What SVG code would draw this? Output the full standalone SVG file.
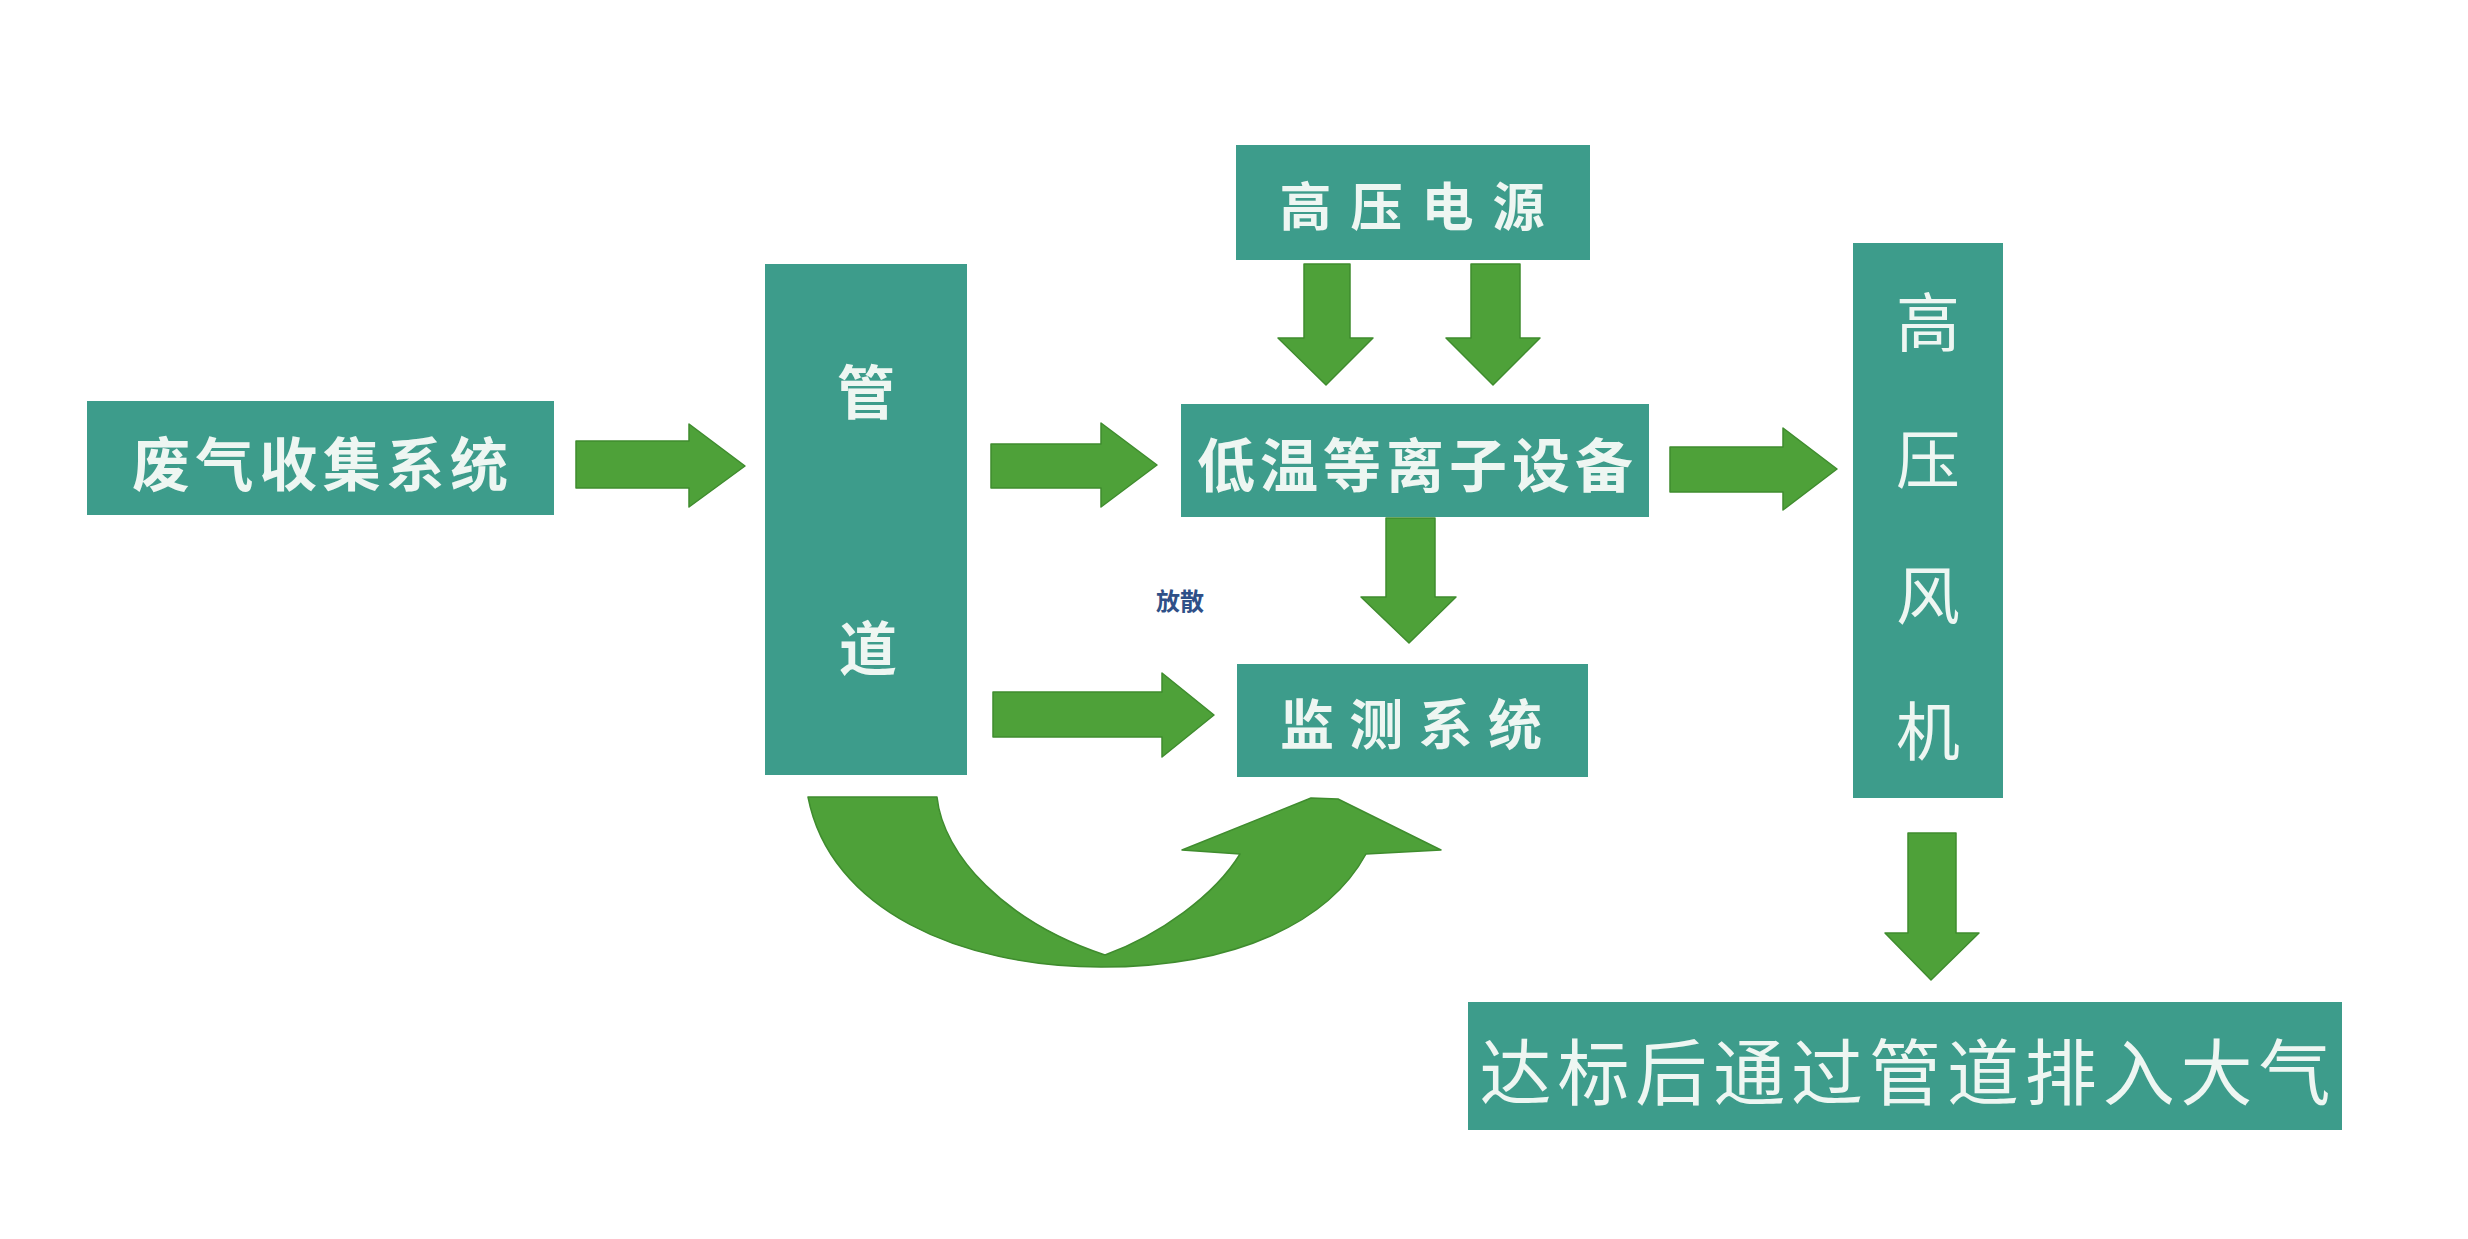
<svg xmlns="http://www.w3.org/2000/svg" width="2468" height="1239" viewBox="0 0 2468 1239">
<style>
.box{fill:#3d9c8b;}
.t{font-family:"Noto Sans CJK SC","Noto Sans CJK JP",sans-serif;fill:#eef6f2;dominant-baseline:central;text-anchor:middle;}
.b{font-weight:700;}
.arr{fill:#4ea139;stroke:#3f8c2e;stroke-width:1.5;stroke-linejoin:round;}
.note{font-family:"Noto Sans CJK SC",sans-serif;fill:#2f5088;font-weight:700;font-size:24px;dominant-baseline:central;text-anchor:middle;}
</style>
<rect width="2468" height="1239" fill="#ffffff"/>
<g id="connectors">
  <polygon class="arr" points="576,441 689,441 689,424 745,466 689,507 689,488 576,488"/>
  <polygon class="arr" points="991,444 1101,444 1101,423 1157,465 1101,507 1101,488 991,488"/>
  <polygon class="arr" points="993,692 1162,692 1162,673 1214,715 1162,757 1162,737 993,737"/>
  <polygon class="arr" points="1670,447 1783,447 1783,428 1837,469 1783,510 1783,492 1670,492"/>
  <polygon class="arr" points="1304,264 1350,264 1350,338 1373,338 1326,385 1278,338 1304,338"/>
  <polygon class="arr" points="1471,264 1520,264 1520,338 1540,338 1493,385 1446,338 1471,338"/>
  <polygon class="arr" points="1386,518 1435,518 1435,597 1456,597 1409,643 1361,597 1386,597"/>
  <polygon class="arr" points="1908,833 1956,833 1956,933 1979,933 1931,980 1885,933 1908,933"/>
  <path class="arr" d="M808,797 L937,797 C943,855 1005,922 1105,955 C1160,935 1215,895 1240,854 L1182,850 L1311,798 L1338,799 L1441,850 L1366,854 C1330,920 1240,967 1101,967 C960,967 830,910 808,797 Z"/>
</g>
<g id="n1">
  <rect class="box" x="87" y="401" width="467" height="114"/>
  <text class="t b" x="320" y="461" font-size="58" textLength="376">废气收集系统</text>
</g>
<g id="n2">
  <rect class="box" x="765" y="264" width="202" height="511"/>
  <text class="t b" x="866" y="389" font-size="58">管</text>
  <text class="t b" x="868" y="645" font-size="58">道</text>
</g>
<g id="n3">
  <rect class="box" x="1236" y="145" width="354" height="115"/>
  <text class="t b" x="1412" y="203" font-size="52" textLength="265">高压电源</text>
</g>
<g id="n4">
  <rect class="box" x="1181" y="404" width="468" height="113"/>
  <text class="t b" x="1415" y="462" font-size="58" textLength="436">低温等离子设备</text>
</g>
<g id="n5">
  <rect class="box" x="1237" y="664" width="351" height="113"/>
  <text class="t b" x="1411" y="721" font-size="54" textLength="262">监测系统</text>
</g>
<g id="n6">
  <rect class="box" x="1853" y="243" width="150" height="555"/>
  <text class="t" x="1928" y="318" font-size="64">高</text>
  <text class="t" x="1928" y="455" font-size="64">压</text>
  <text class="t" x="1928" y="591" font-size="64">风</text>
  <text class="t" x="1928" y="727" font-size="64">机</text>
</g>
<g id="n7">
  <rect class="box" x="1468" y="1002" width="874" height="128"/>
  <text class="t" x="1905" y="1067" font-size="72" textLength="851">达标后通过管道排入大气</text>
</g>
<g id="note">
  <text class="note" x="1180" y="599">放散</text>
</g>
</svg>
